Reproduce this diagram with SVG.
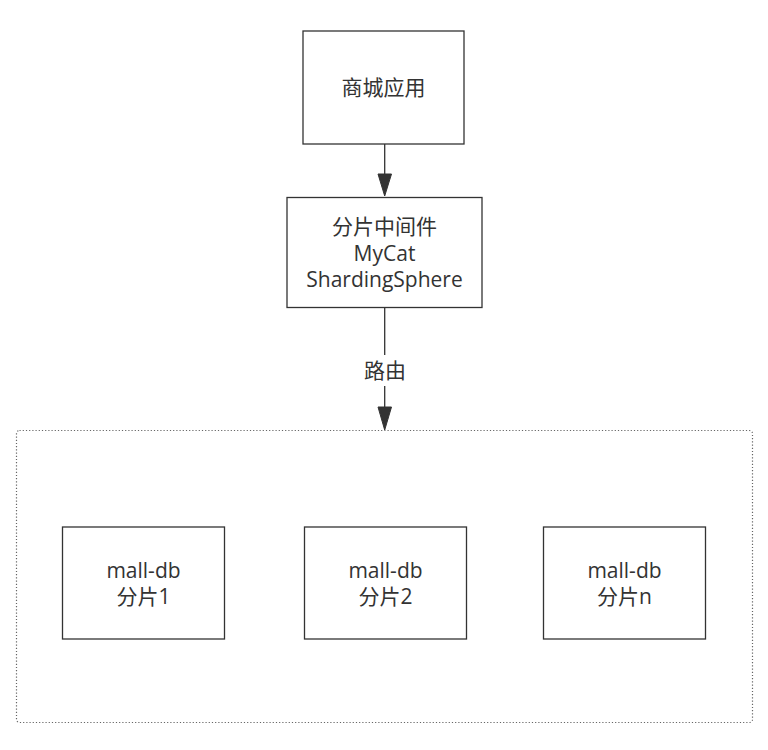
<svg xmlns="http://www.w3.org/2000/svg" width="768" height="750" viewBox="0 0 768 750">
<style>
.box{fill:#fff;stroke:#333;stroke-width:1.3}
.t{font-family:"Open Sans","Noto Sans CJK SC",sans-serif;font-size:21px;fill:#333;text-anchor:middle}
.conn{stroke:#333;stroke-width:1.3;fill:none}
.head{fill:#333;stroke:#333;stroke-width:1}
</style>
<rect width="768" height="750" fill="#fff"/>
<g id="container">
<rect x="16.5" y="430.5" width="736" height="292" rx="3" ry="3" fill="none" stroke="#666" stroke-width="1.2" stroke-dasharray="1.2 2"/>
</g>
<g id="connectors">
<line class="conn" x1="384.7" y1="144" x2="384.7" y2="176"/>
<polygon class="head" points="378,174 391.5,174 384.7,196"/>
<line class="conn" x1="384.7" y1="307" x2="384.7" y2="355"/>
<line class="conn" x1="384.7" y1="386" x2="384.7" y2="409"/>
<polygon class="head" points="378,407 391.5,407 384.7,430"/>
<text class="t" x="385" y="378">路由</text>
</g>
<g id="app">
<rect class="box" x="303" y="31" width="161" height="113"/>
<text class="t" x="383.5" y="94.5">商城应用</text>
</g>
<g id="middleware">
<rect class="box" x="287" y="197.5" width="195" height="110"/>
<text class="t" x="384.5" y="233.5">分片中间件</text>
<text class="t" x="384.5" y="261">MyCat</text>
<text class="t" x="384.5" y="287">ShardingSphere</text>
</g>
<g id="db1">
<rect class="box" x="62.5" y="527" width="162" height="112"/>
<text class="t" x="143.5" y="577.5">mall-db</text>
<text class="t" x="143.5" y="604">分片1</text>
</g>
<g id="db2">
<rect class="box" x="304.5" y="527" width="162" height="112"/>
<text class="t" x="385.5" y="577.5">mall-db</text>
<text class="t" x="385.5" y="604">分片2</text>
</g>
<g id="dbn">
<rect class="box" x="543.5" y="527" width="162" height="112"/>
<text class="t" x="624.5" y="577.5">mall-db</text>
<text class="t" x="624.5" y="604">分片n</text>
</g>
</svg>
